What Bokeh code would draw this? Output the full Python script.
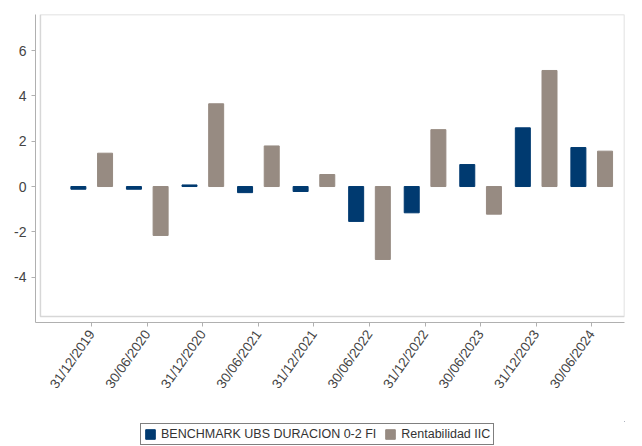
import math
from bokeh.plotting import figure
from bokeh.layouts import column
from bokeh.models import Range1d, FixedTicker, BoxAnnotation, Legend, LegendItem, ColumnDataSource
from bokeh.transform import dodge
from bokeh.embed import file_html
from bokeh.resources import INLINE

dates = ["31/12/2019", "30/06/2020", "31/12/2020", "30/06/2021", "31/12/2021",
         "30/06/2022", "31/12/2022", "30/06/2023", "31/12/2023", "30/06/2024"]
benchmark = [-0.12, -0.12, 0.07, -0.27, -0.22, -1.54, -1.16, 0.97, 2.59, 1.72]
rentabilidad = [1.47, -2.16, 3.65, 1.79, 0.53, -3.22, 2.51, -1.22, 5.12, 1.56]
y_ticks = [-4, -2, 0, 2, 4, 6]
series_names = ["BENCHMARK UBS DURACION 0-2 FI", "Rentabilidad IIC"]

idx = list(range(len(dates)))
src = ColumnDataSource(dict(x=idx, b=benchmark, r=rentabilidad))

x_start, x_end = -1.012, 9.59
y_start, y_end = -6.0, 7.59

NAVY = "#003a70"
GRAY = "#978b82"

p = figure(width=626, height=421, output_backend="svg", toolbar_location=None,
           x_range=Range1d(x_start, x_end), y_range=Range1d(y_start, y_end),
           min_border_left=35, min_border_top=14, min_border_right=2, min_border_bottom=99)
p.outline_line_color = None
p.grid.visible = False
p.background_fill_color = "white"
p.border_fill_color = "white"

bw = 0.27
rb = p.vbar(x=dodge("x", -0.24, range=p.x_range), top="b", bottom=0, width=bw, source=src,
            fill_color=NAVY, line_color=NAVY)
rr = p.vbar(x=dodge("x", 0.24, range=p.x_range), top="r", bottom=0, width=bw, source=src,
            fill_color=GRAY, line_color=GRAY)

box = BoxAnnotation(left=-0.923, right=x_end, top=y_end, bottom=-5.73,
                    fill_color=None, fill_alpha=0, line_color="#7a7a7a", line_width=1.5)
p.add_layout(box)

p.yaxis.ticker = FixedTicker(ticks=y_ticks)
p.yaxis.major_label_overrides = {t: str(t) for t in y_ticks}
p.yaxis.axis_line_color = "#b0b0b0"
p.yaxis.major_tick_line_color = "#b0b0b0"
p.yaxis.major_tick_out = 4
p.yaxis.major_tick_in = 0
p.yaxis.minor_tick_line_color = None
p.yaxis.major_label_text_font = "Liberation Sans"
p.yaxis.major_label_text_font_size = "14px"
p.yaxis.major_label_text_color = "#444444"
p.yaxis.major_label_standoff = 5

p.xaxis.ticker = FixedTicker(ticks=idx)
p.xaxis.major_label_overrides = {i: d for i, d in zip(idx, dates)}
p.xaxis.major_label_orientation = math.radians(55)
p.xaxis.axis_line_color = "#b0b0b0"
p.xaxis.major_tick_line_color = "#b0b0b0"
p.xaxis.major_tick_out = 4
p.xaxis.major_tick_in = 0
p.xaxis.minor_tick_line_color = None
p.xaxis.major_label_text_font = "Liberation Sans"
p.xaxis.major_label_text_font_size = "13.5px"
p.xaxis.major_label_text_color = "#444444"
p.xaxis.major_label_standoff = 5

# legend strip below the chart (proxy renderers out of view, only for the legend swatches)
lg = figure(width=626, height=25, output_backend="svg", toolbar_location=None,
            x_range=Range1d(0, 1), y_range=Range1d(0, 1),
            x_axis_type=None, y_axis_type=None,
            min_border_left=0, min_border_right=0, min_border_top=0, min_border_bottom=0)
lg.outline_line_color = None
lg.grid.visible = False
proxy = ColumnDataSource(dict(x=[5.0], top=[5.0], bottom=[4.0]))
lb = lg.vbar(x="x", top="top", bottom="bottom", width=0.1, source=proxy,
             fill_color=NAVY, line_color=NAVY)
lr = lg.vbar(x="x", top="top", bottom="bottom", width=0.1, source=proxy,
             fill_color=GRAY, line_color=GRAY)

legend = Legend(items=[LegendItem(label=series_names[0], renderers=[lb]),
                       LegendItem(label=series_names[1], renderers=[lr])],
                location=(105, 1), orientation="horizontal")
legend.border_line_color = "black"
legend.border_line_width = 1.5
legend.padding = 3
legend.spacing = 8
legend.margin = 0
legend.glyph_width = 12
legend.glyph_height = 12
legend.label_standoff = 5
legend.label_text_font = "Liberation Sans"
legend.label_text_font_size = "12.5px"
legend.label_text_color = "#333333"
legend.label_height = 14
lg.add_layout(legend, "center")

layout = column(p, lg, spacing=0)
open("out.html", "w").write(file_html(layout, INLINE))
